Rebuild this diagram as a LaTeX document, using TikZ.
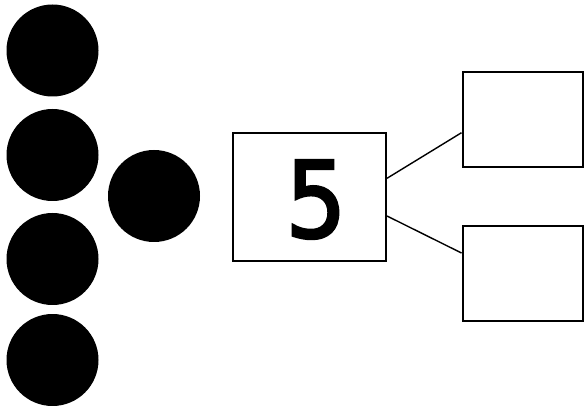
\documentclass[tikz,border=0pt]{standalone}
\usepackage{fontspec}
\setmainfont{DejaVu Sans}
\newfontfamily\digitfont[FakeBold=2.5]{DejaVu Sans Condensed}
\usetikzlibrary{positioning}

\begin{document}
\begin{tikzpicture}[x=1pt, y=-1pt,
  dot/.style={circle, fill=black, minimum size=92pt, inner sep=0pt},
  numbox/.style={draw, line width=2pt, minimum width=153pt, minimum height=128pt, inner sep=0pt},
  partbox/.style={draw, line width=2pt, minimum width=120pt, minimum height=95pt, inner sep=0pt}]
  \useasboundingbox (0,0) rectangle (584,406);

  % Counters
  \node[dot] (d1) at (52.5,50.5) {};
  \node[dot] (d2) at (52.5,155) {};
  \node[dot] (d3) at (52.5,259) {};
  \node[dot] (d4) at (52.5,360) {};
  \node[dot] (d5) at (154,196) {};

  % Whole and parts
  \node[numbox] (whole) at (309.5,197) {};
  \node[font=\digitfont\fontsize{106}{106}\selectfont, inner sep=0pt] (num) at (316,199.5) {5};
  \node[partbox] (top) at (522.5,120) {};
  \node[partbox] (bottom) at (522.5,273.5) {};

  % Links
  \draw[line width=1.4pt] ([yshift=18.7pt]whole.east) -- ([yshift=-12.7pt]top.west);
  \draw[line width=1.4pt] ([yshift=-19pt]whole.east) -- ([yshift=20.5pt]bottom.west);
\end{tikzpicture}
\end{document}
